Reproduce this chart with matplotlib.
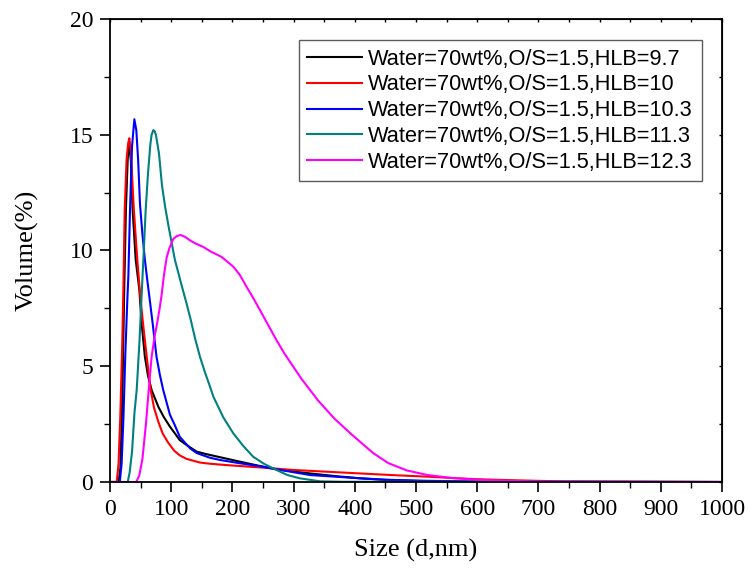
import matplotlib
matplotlib.use("Agg")
import matplotlib.pyplot as plt
from matplotlib.ticker import MultipleLocator

# size distribution curves (x: size in nm, y: volume %)
labels = [
    "Water=70wt%,O/S=1.5,HLB=9.7",
    "Water=70wt%,O/S=1.5,HLB=10",
    "Water=70wt%,O/S=1.5,HLB=10.3",
    "Water=70wt%,O/S=1.5,HLB=11.3",
    "Water=70wt%,O/S=1.5,HLB=12.3",
]
colors = ["#000000", "#ff0000", "#0000ff", "#008080", "#ff00ff"]

hlb97_x = [0, 14, 17, 20, 23, 26, 29, 31.6, 34, 37, 42, 48, 51.7, 57, 62, 68,
           79, 88, 98, 114, 125, 141.7, 158, 180, 212, 245, 272, 300, 327,
           370, 408.5, 450, 500, 550, 600, 1000]
hlb97_y = [0, 0, 0.6, 3.5, 8, 11.8, 14.0, 14.56, 13.9, 11.75, 9.6, 8.29,
           6.85, 5.41, 4.6, 3.97, 3.25, 2.8, 2.39, 1.81, 1.6, 1.31, 1.2, 1.07,
           0.88, 0.69, 0.55, 0.45, 0.37, 0.25, 0.16, 0.09, 0.05, 0.02, 0.01, 0]

hlb10_x = [0, 11, 14, 17, 20, 21.8, 24, 27, 29.5, 31.6, 34, 39, 44.6, 50, 55,
           60, 66.5, 72, 79, 86, 95, 105, 114, 125, 136, 147, 163, 190.6, 245,
           299.5, 350, 408.5, 460, 519, 560, 600, 654, 700, 750, 1000]
hlb10_y = [0, 0, 0.8, 3, 6, 8.3, 11.75, 13.9, 14.6, 14.85, 14.3, 11.75, 9.6,
           7.86, 6.6, 5.41, 3.97, 3.2, 2.6, 2.1, 1.7, 1.35, 1.15, 1.0, 0.92,
           0.84, 0.79, 0.73, 0.63, 0.52, 0.45, 0.37, 0.3, 0.23, 0.17, 0.12,
           0.08, 0.05, 0.02, 0]

hlb103_x = [0, 16, 19, 22, 25, 28.3, 30, 32.7, 36, 39.8, 43, 46, 49, 53, 57,
            61, 65, 69.7, 76, 81.7, 87, 98, 106, 114, 131, 141.7, 163, 180,
            212, 245, 272, 327, 408.5, 450, 500, 600, 1000]
hlb103_y = [0, 0, 0.8, 2.8, 5.5, 7.86, 8.9, 11.75, 14.5, 15.67, 15.2, 13.9,
            12.0, 10.7, 9.6, 8.7, 7.86, 6.85, 5.41, 4.6, 3.97, 2.9, 2.45, 1.95,
            1.45, 1.25, 1.05, 0.95, 0.81, 0.68, 0.55, 0.3, 0.16, 0.1, 0.06,
            0.02, 0]

hlb113_x = [0, 29, 32, 36, 40, 43.6, 48, 51.7, 54.5, 58.3, 62, 66, 68, 70.8,
            73, 75, 80, 85, 90, 96, 101, 106, 112, 119, 125, 132, 139, 147,
            155, 163, 169, 185, 201.5, 218, 234, 252, 272, 290, 310, 343, 380,
            1000]
hlb113_y = [0, 0, 0.4, 1.3, 3.0, 3.97, 6.0, 8.1, 9.6, 11.75, 13.3, 14.6,
            15.0, 15.2, 15.15, 15.0, 14.2, 12.8, 11.9, 11.0, 10.3, 9.6, 9.0,
            8.3, 7.72, 7.0, 6.2, 5.41, 4.75, 4.15, 3.68, 2.8, 2.1, 1.55, 1.09,
            0.78, 0.52, 0.3, 0.16, 0.03, 0.01, 0]

hlb123_x = [0, 43, 48, 53, 58.8, 63, 68, 73, 78, 81.7, 84.4, 88, 92.6, 97,
            103.5, 109, 115, 122, 130, 140, 152, 165, 182.5, 201.5, 212, 223,
            234, 245, 258, 272, 285, 299.5, 313, 327, 340, 354, 367, 381, 395,
            408.5, 430, 454.5, 485, 519, 560, 600, 650, 700, 750, 1000]
hlb123_y = [0, 0, 0.3, 1.0, 2.53, 3.9, 5.41, 6.3, 7.0, 7.6, 8.1, 8.9, 9.7,
            10.1, 10.5, 10.62, 10.67, 10.6, 10.45, 10.3, 10.16, 9.95, 9.72,
            9.3, 8.95, 8.44, 7.95, 7.43, 6.8, 6.13, 5.55, 4.98, 4.45, 3.97,
            3.52, 3.11, 2.73, 2.39, 2.05, 1.74, 1.25, 0.82, 0.5, 0.3, 0.17,
            0.1, 0.05, 0.02, 0.01, 0]

series = [(hlb97_x, hlb97_y), (hlb10_x, hlb10_y), (hlb103_x, hlb103_y),
          (hlb113_x, hlb113_y), (hlb123_x, hlb123_y)]

fig = plt.figure(figsize=(7.5, 5.75), dpi=100)
ax = fig.add_axes([110 / 750, 93 / 575, 612 / 750, 463 / 575])

for (xs, ys), lab, col in zip(series, labels, colors):
    ax.plot(xs, ys, color=col, lw=1.5, label=lab, solid_joinstyle="round")

ax.set_xlim(0, 1000)
ax.set_ylim(0, 20)
ax.xaxis.set_major_locator(MultipleLocator(100))
ax.xaxis.set_minor_locator(MultipleLocator(50))
ax.yaxis.set_major_locator(MultipleLocator(5))
ax.yaxis.set_minor_locator(MultipleLocator(2.5))

serif = "Liberation Serif"
ax.tick_params(which="major", direction="out", length=7, width=1.2,
               labelsize=17, pad=5)
ax.tick_params(which="minor", direction="out", length=4, width=1.0)
for lbl in ax.get_xticklabels() + ax.get_yticklabels():
    lbl.set_fontfamily(serif)
for s in ax.spines.values():
    s.set_linewidth(1.3)

# tiny marks on the top and right frame
ax2 = ax.secondary_xaxis("top")
ax2.xaxis.set_major_locator(MultipleLocator(100))
ax2.xaxis.set_minor_locator(MultipleLocator(50))
ax2.tick_params(which="both", direction="in", length=2, width=1.0,
                labeltop=False)
ay2 = ax.secondary_yaxis("right")
ay2.yaxis.set_major_locator(MultipleLocator(5))
ay2.yaxis.set_minor_locator(MultipleLocator(2.5))
ay2.tick_params(which="both", direction="in", length=2, width=1.0,
                labelright=False)

ax.set_xlabel("Size (d,nm)", fontfamily=serif, fontsize=19)
ax.set_ylabel("Volume(%)", fontfamily=serif, fontsize=19)
ax.xaxis.set_label_coords(0.5, -0.147)
ax.xaxis.label.set_va("center")
ax.yaxis.set_label_coords(-0.135, 0.5)
ax.yaxis.label.set_va("center")

leg = ax.legend(loc="upper right", bbox_to_anchor=(0.967, 0.955),
                prop={"family": "Liberation Sans", "size": 15.7},
                frameon=True, fancybox=False, edgecolor="#333333",
                handlelength=2.5, handletextpad=0.3, labelspacing=0.22,
                borderpad=0.4, borderaxespad=0)
leg.get_frame().set_linewidth(1.0)

fig.savefig("out.png", dpi=100)
